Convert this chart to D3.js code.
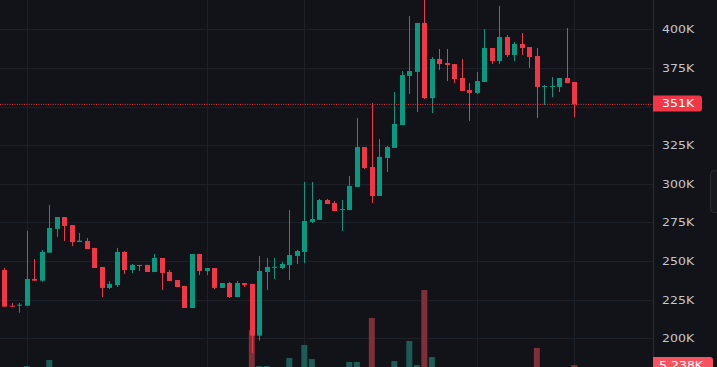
<!DOCTYPE html>
<html><head><meta charset="utf-8">
<script src="https://cdn.jsdelivr.net/npm/d3@7"></script>
<style>html,body{margin:0;padding:0;background:#111318;overflow:hidden}</style>
</head><body><svg id="c" width="717" height="367"></svg>
<script>
// Prices in thousands
const opens  = [244.2,221.1,221.1,221.1,238.4,237.3,255.4,270.8,278.5,273.3,262.3,263.0,258.5,246.2,232.6,234.5,255.9,244.2,247.5,247.5,242.9,252.0,242.9,237.7,233.9,219.6,254.6,243.6,245.5,232.6,235.8,226.7,235.8,235.2,201.7,242.9,245.6,245.5,247.5,253.3,255.9,275.3,276.6,289.5,287.6,283.0,283.0,298.0,323.8,310.9,292.1,316.7,323.2,338.0,369.8,372.4,404.1,355.5,380.8,378.2,377.5,368.5,360.7,358.8,365.9,387.9,379.5,395.0,383.4,390.5,388.5,382.7,362.7,362.7,362.7,368.5,365.9];
const highs  = [245.7,222.9,222.9,269.5,251.3,257.2,286.3,278.5,278.5,273.3,268.2,264.9,258.5,246.2,237.1,258.5,256.5,248.1,247.5,247.5,254.6,252.0,244.2,237.7,233.9,254.6,254.6,245.5,245.5,235.8,236.5,237.1,235.8,235.2,253.3,252.0,252.0,249.4,283.1,257.2,301.2,301.2,290.2,290.2,288.9,289.5,305.1,342.6,323.8,352.3,329.0,324.5,359.4,373.0,408.6,404.1,420.9,382.1,387.3,387.3,377.5,380.8,365.2,372.4,400.2,387.9,415.1,396.3,391.8,397.6,388.5,387.9,364.0,369.1,368.5,400.8,365.9];
const lows   = [220.5,220.5,216.6,221.1,237.3,236.6,255.4,265.6,263.0,259.7,262.3,257.8,245.5,226.7,231.9,233.2,241.6,242.3,243.6,242.9,242.9,231.3,237.1,233.2,219.6,219.6,241.0,241.0,231.9,232.6,226.1,226.7,233.2,190.5,198.5,231.3,238.4,244.9,237.7,248.1,248.7,274.6,276.6,286.9,282.4,269.5,283.0,298.0,309.6,287.6,292.1,307.6,323.2,338.0,358.1,346.5,354.8,345.8,373.7,366.5,365.2,360.1,340.7,358.1,365.9,377.5,377.5,382.1,379.5,383.4,375.0,342.6,351.0,356.2,359.4,365.2,343.2];
const closes = [220.5,220.5,221.8,238.4,237.3,255.9,271.4,278.5,272.7,262.3,263.2,257.8,245.5,232.6,235.2,255.9,244.2,247.5,246.8,242.9,252.0,242.3,237.1,233.2,219.6,254.6,243.6,245.5,232.6,235.8,226.7,235.8,234.5,201.7,243.6,246.2,246.3,248.1,253.9,256.5,275.9,277.2,289.5,286.9,282.4,283.7,298.6,323.8,310.2,292.1,317.4,323.8,338.7,370.4,373.0,404.1,355.5,380.8,377.5,376.9,367.8,360.1,358.8,366.5,387.9,379.5,395.0,383.4,390.5,387.9,382.1,362.7,363.3,363.3,368.5,365.2,351.4];
// Volumes in thousands
const volumes = [2.1,1.4,1.8,4.5,2.6,3.0,9.0,2.4,1.9,2.7,1.2,1.6,2.2,3.1,1.3,3.2,2.5,1.1,0.9,1.5,2.0,2.8,1.7,1.4,3.3,3.4,2.3,1.0,2.9,1.2,2.4,2.6,1.1,31.4,4.5,4.5,2.0,1.8,10.5,3.0,20.2,9.7,3.5,1.6,2.1,2.9,7.5,7.5,3.2,40.4,3.4,2.7,8.2,3.5,23.2,5.2,61.3,11.2,2.4,1.9,2.8,3.1,2.2,1.7,3.3,2.0,3.4,2.6,1.5,1.8,2.5,18.0,1.3,1.0,1.6,2.9,5.238];
const priceTicks = [200,225,250,275,300,325,350,375,400];
const timeGridIdx = [3,27,40,63,76];
const lastVolumeLabel = "5.238K";

const UP="#089981", DOWN="#f23645";
const W=717,H=367, plotR=653;
const svg=d3.select("#c");
const n=opens.length;
const x=d3.scaleLinear().domain([0,n-1]).range([4.33,4.33+7.5*(n-1)]);
const y=d3.scaleLinear().domain([200,400]).range([338.3,29.3]);
const yv=d3.scaleLinear().domain([0,61.3]).range([372,290]);
const bw=5;

svg.append("rect").attr("width",W).attr("height",H).attr("fill","#111318");

// grid
const g=svg.append("g");
g.selectAll("line.h").data(priceTicks).join("line")
 .attr("x1",0).attr("x2",plotR).attr("y1",d=>Math.round(y(d))+0.5).attr("y2",d=>Math.round(y(d))+0.5)
 .attr("stroke","#1d2027");
g.selectAll("line.v").data(timeGridIdx).join("line")
 .attr("y1",0).attr("y2",H).attr("x1",d=>Math.round(x(d))+0.5).attr("x2",d=>Math.round(x(d))+0.5)
 .attr("stroke","#1d2027");

const data=d3.range(n).map(i=>({i,o:opens[i],h:highs[i],l:lows[i],c:closes[i],v:volumes[i],up:closes[i]>=opens[i]}));

// volume bars
svg.append("g").selectAll("rect").data(data).join("rect")
 .attr("x",d=>x(d.i)-3).attr("width",6)
 .attr("y",d=>yv(d.v)).attr("height",d=>yv(0)-yv(d.v))
 .attr("fill",d=>d.up?"#1c5c55":"#7f2f38");

// candles
const cg=svg.append("g").selectAll("g").data(data).join("g");
cg.append("rect")
 .attr("x",d=>Math.round(x(d.i)))
 .attr("width",1)
 .attr("y",d=>y(d.h)).attr("height",d=>Math.max(1,y(d.l)-y(d.h)))
 .attr("fill",d=>d.up?UP:DOWN);
cg.append("rect")
 .attr("x",d=>Math.round(x(d.i))-2).attr("width",bw)
 .attr("y",d=>y(Math.max(d.o,d.c)))
 .attr("height",d=>Math.max(1,Math.abs(y(d.o)-y(d.c))))
 .attr("fill",d=>d.up?UP:DOWN);

// last price dotted line
const last=closes[n-1];
svg.append("line").attr("x1",0).attr("x2",plotR).attr("y1",y(last)).attr("y2",y(last))
 .attr("stroke",DOWN).attr("stroke-width",1).attr("stroke-dasharray","1 1.4");

// axis panel
svg.append("rect").attr("x",plotR).attr("y",0).attr("width",W-plotR).attr("height",H).attr("fill","#111318");
svg.append("line").attr("x1",plotR+0.5).attr("x2",plotR+0.5).attr("y1",0).attr("y2",H).attr("stroke","#2a2d35");

const fmt=v=>v+"K";
const tl=svg.append("g").attr("font-family","DejaVu Sans, sans-serif").attr("font-size",11);
priceTicks.filter(t=>Math.abs(y(t)-y(last))>12).forEach(t=>{
  tl.append("text").attr("transform",`translate(662,${y(t)+4}) scale(1.14,1)`).attr("fill","#c4c7cf").text(fmt(t));
});

// last price label
const ly=y(last)-1;
svg.append("path").attr("d",`M${plotR},${ly-8} h46 a3,3 0 0 1 3,3 v10 a3,3 0 0 1 -3,3 h-46 z`).attr("fill",DOWN);
svg.append("text").attr("transform",`translate(662,${ly+4}) scale(1.14,1)`).attr("fill","#ffffff")
 .attr("font-family","DejaVu Sans, sans-serif").attr("font-size",11).text(Math.round(last)+"K");

// volume label
const vy=yv(volumes[n-1]);
svg.append("path").attr("d",`M${plotR},${vy-8} h57 a3,3 0 0 1 3,3 v10 a3,3 0 0 1 -3,3 h-57 z`).attr("fill","#f7525f");
svg.append("text").attr("transform",`translate(659,${vy+4}) scale(1.14,1)`).attr("fill","#ffffff")
 .attr("font-family","DejaVu Sans, sans-serif").attr("font-size",11).text(lastVolumeLabel);

// scroll handle
svg.append("rect").attr("x",710.5).attr("y",170.5).attr("width",12).attr("height",42).attr("rx",4)
 .attr("fill","#16181e").attr("stroke","#2a2d35");
</script></body></html>
